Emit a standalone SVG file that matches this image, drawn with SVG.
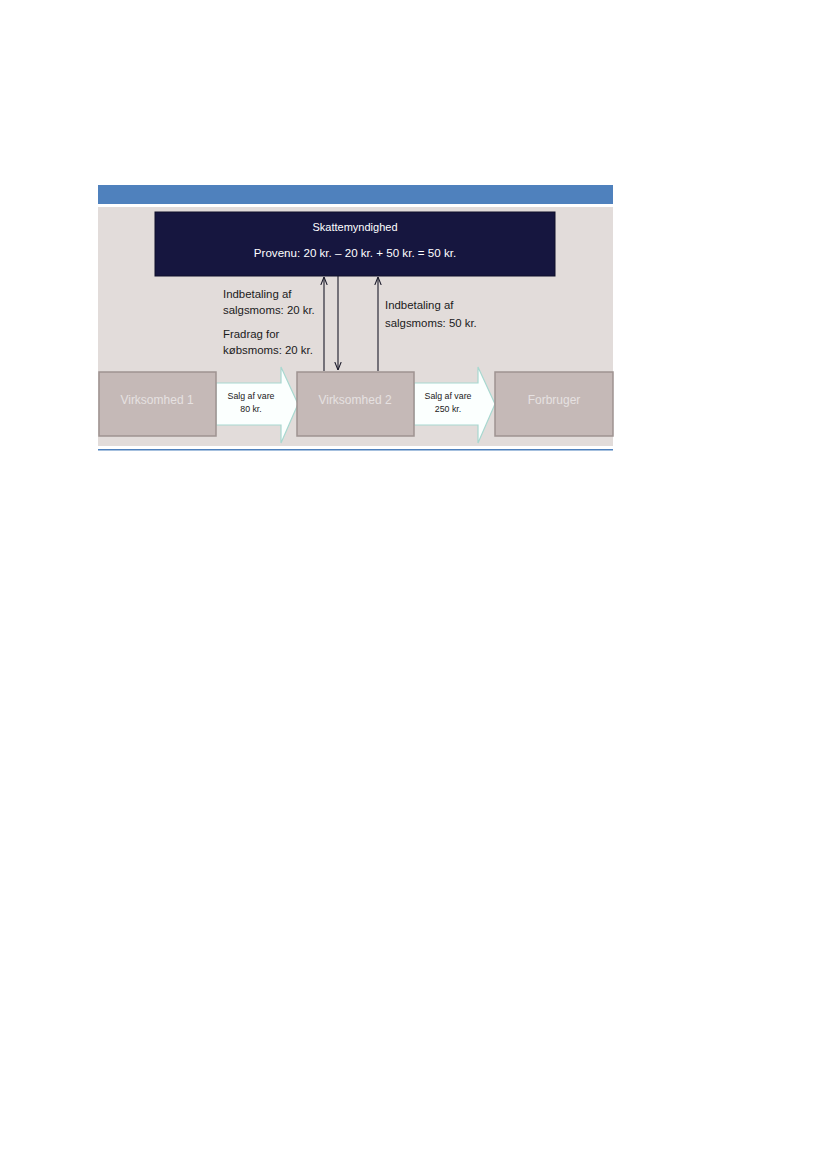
<svg xmlns="http://www.w3.org/2000/svg" width="827" height="1169" viewBox="0 0 827 1169">
<defs>
<style>
.t{font-family:"Liberation Sans",Arial,sans-serif;}
.lbl{font-size:11.4px;fill:#1a1a1a;}
.node{fill:#c5b9b7;stroke:#9e9391;stroke-width:1.5;}
.ntext{font-size:12px;fill:#e6e1e1;text-anchor:middle;}
.small{font-size:8.8px;fill:#222;text-anchor:middle;}
.conn{stroke:#1a1a2a;stroke-width:1.1;fill:none;}
.big{fill:#fbfffe;stroke:#a8d8d0;stroke-width:1.2;}
</style>
<marker id="ah" viewBox="0 0 10 10" refX="10" refY="5" markerWidth="8" markerHeight="8" orient="auto" markerUnits="userSpaceOnUse">
<path d="M0,1 L10,5 L0,9" fill="none" stroke="#1a1a2a" stroke-width="1.3"/>
</marker>
</defs>
<rect width="827" height="1169" fill="#ffffff"/>
<rect x="98" y="185" width="515" height="19" fill="#4f81bd"/>
<rect x="98" y="207" width="515" height="239" fill="#e2dcda"/>
<rect x="98" y="449" width="515" height="1.5" fill="#4f81bd"/>

<g id="skattemyndighed">
<rect x="155" y="212" width="400" height="64" fill="#16163f" stroke="#0e0e2a" stroke-width="1"/>
<text class="t" x="355" y="231" font-size="11" fill="#ffffff" text-anchor="middle">Skattemyndighed</text>
<text class="t" x="355" y="257" font-size="11.6" fill="#ffffff" text-anchor="middle">Provenu: 20 kr. – 20 kr. + 50 kr. = 50 kr.</text>
</g>

<g id="connectors">
<line class="conn" x1="324" y1="371" x2="324" y2="277" marker-end="url(#ah)"/>
<line class="conn" x1="338" y1="276" x2="338" y2="370" marker-end="url(#ah)"/>
<line class="conn" x1="378" y1="371" x2="378" y2="277" marker-end="url(#ah)"/>
<g id="arrow1">
<path class="big" d="M216,383 L281,383 L281,367 L298,404 L281,443 L281,425 L216,425 Z"/>
<text class="t small" x="251" y="399">Salg af vare</text>
<text class="t small" x="251" y="412">80 kr.</text>
</g>
<g id="arrow2">
<path class="big" d="M414,383 L478,383 L478,367 L495,404 L478,443 L478,425 L414,425 Z"/>
<text class="t small" x="448" y="399">Salg af vare</text>
<text class="t small" x="448" y="412">250 kr.</text>
</g>
</g>

<g id="labels">
<text class="t lbl" x="223" y="298">Indbetaling af</text>
<text class="t lbl" x="223" y="314">salgsmoms: 20 kr.</text>
<text class="t lbl" x="223" y="338">Fradrag for</text>
<text class="t lbl" x="223" y="354">købsmoms: 20 kr.</text>
<text class="t lbl" x="385" y="309">Indbetaling af</text>
<text class="t lbl" x="385" y="327">salgsmoms: 50 kr.</text>
</g>

<g id="virksomhed1">
<rect class="node" x="99" y="372" width="117" height="64"/>
<text class="t ntext" x="157" y="404">Virksomhed 1</text>
</g>
<g id="virksomhed2">
<rect class="node" x="297" y="372" width="117" height="64"/>
<text class="t ntext" x="355" y="404">Virksomhed 2</text>
</g>
<g id="forbruger">
<rect class="node" x="495" y="372" width="118" height="64"/>
<text class="t ntext" x="554" y="404">Forbruger</text>
</g>
</svg>
